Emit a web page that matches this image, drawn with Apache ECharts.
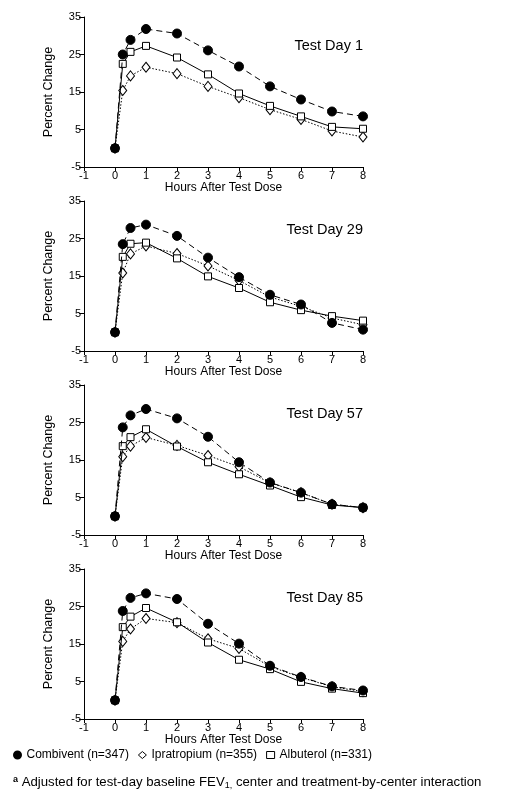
<!DOCTYPE html>
<html><head><meta charset="utf-8">
<script src="https://cdn.jsdelivr.net/npm/echarts@6/dist/echarts.min.js"></script>
<style>html,body{margin:0;padding:0;background:#fff}#c{width:511px;height:795px}</style>
</head><body><div id="c"></div>
<script>
// ---- data ----
const hours = [0, 0.25, 0.5, 1, 2, 3, 4, 5, 6, 7, 8];
const panelTitles = ['Test Day 1', 'Test Day 29', 'Test Day 57', 'Test Day 85'];
const seriesNames = ['Combivent (n=347)', 'Ipratropium (n=355)', 'Albuterol (n=331)'];
const yTicks = [-5, 5, 15, 25, 35];
const xTicks = [-1, 0, 1, 2, 3, 4, 5, 6, 7, 8];

const combiventDay1  = [0, 25.0, 28.9, 31.8, 30.6, 26.1, 21.8, 16.5, 13.0, 9.8, 8.5];
const ipratropiumDay1 = [0, 15.4, 19.3, 21.6, 19.9, 16.5, 13.5, 10.3, 7.7, 4.6, 3.0];
const albuterolDay1  = [0, 22.5, 25.7, 27.3, 24.2, 19.7, 14.6, 11.3, 8.5, 5.7, 5.2];

const combiventDay29  = [0, 23.5, 27.8, 28.7, 25.7, 19.9, 14.7, 10.0, 7.4, 2.5, 0.7];
const ipratropiumDay29 = [0, 15.8, 20.9, 23.0, 21.0, 17.7, 13.8, 9.4, 6.9, 3.8, 2.0];
const albuterolDay29  = [0, 20.1, 23.6, 23.9, 19.7, 14.9, 11.8, 8.0, 5.9, 4.3, 3.1];

const combiventDay57  = [0, 23.7, 26.9, 28.6, 26.1, 21.2, 14.4, 9.0, 6.3, 3.2, 2.3];
const ipratropiumDay57 = [0, 15.9, 18.7, 21.0, 18.9, 16.2, 13.2, 8.9, 6.3, 3.2, 2.3];
const albuterolDay57  = [0, 18.7, 21.1, 23.2, 18.6, 14.4, 11.2, 8.2, 5.1, 3.0, 2.3];

const combiventDay85  = [0, 23.8, 27.3, 28.5, 27.0, 20.4, 15.1, 9.2, 6.2, 3.7, 2.6];
const ipratropiumDay85 = [0, 15.7, 19.0, 21.8, 20.7, 16.4, 13.8, 9.0, 6.1, 3.6, 2.3];
const albuterolDay85  = [0, 19.5, 22.3, 24.6, 20.8, 15.4, 10.8, 8.3, 4.9, 3.1, 1.9];

const panels = [
  [combiventDay1, ipratropiumDay1, albuterolDay1],
  [combiventDay29, ipratropiumDay29, albuterolDay29],
  [combiventDay57, ipratropiumDay57, albuterolDay57],
  [combiventDay85, ipratropiumDay85, albuterolDay85]
];

// ---- layout / style ----
const FONT = 'Arial, "Liberation Sans", Helvetica, sans-serif';
const gridTops = [17, 201, 385, 569];
const gridLeft = 84, gridWidth = 279, gridHeight = 150;

const styles = [
  { symbol: 'circle', symbolSize: 9, line: { type: [6, 4], width: 1 }, item: { color: '#000', borderColor: '#000', borderWidth: 1 }, z: 4 },
  { symbol: 'diamond', symbolSize: [8, 10], line: { type: [1.5, 1.8], width: 1 }, item: { color: '#fff', borderColor: '#000', borderWidth: 1 }, z: 2 },
  { symbol: 'rect', symbolSize: 7, line: { type: 'solid', width: 1 }, item: { color: '#fff', borderColor: '#000', borderWidth: 1 }, z: 3 }
];

const grids = [], xAxes = [], yAxes = [], series = [], titles = [];
gridTops.forEach((top, i) => {
  grids.push({ left: gridLeft, top: top, width: gridWidth, height: gridHeight });
  xAxes.push({
    type: 'value', gridIndex: i, min: -1, max: 8, interval: 1,
    name: 'Hours After Test Dose', nameLocation: 'middle', nameGap: 13,
    nameTextStyle: { fontFamily: FONT, fontSize: 12, color: '#000', verticalAlign: 'top' },
    axisLine: { onZero: false, lineStyle: { color: '#000', width: 1 } },
    axisTick: { show: true, length: 4, lineStyle: { color: '#000' }, customValues: xTicks },
    axisLabel: { fontFamily: FONT, fontSize: 11, color: '#000', margin: 3, customValues: xTicks },
    splitLine: { show: false }
  });
  yAxes.push({
    type: 'value', gridIndex: i, min: -5, max: 35,
    name: 'Percent Change', nameLocation: 'middle', nameGap: 29, nameRotate: 90,
    nameTextStyle: { fontFamily: FONT, fontSize: 12.5, color: '#000' },
    axisLine: { show: true, onZero: false, lineStyle: { color: '#000', width: 1 } },
    axisTick: { show: true, length: 5, lineStyle: { color: '#000' }, customValues: yTicks },
    axisLabel: { fontFamily: FONT, fontSize: 11, color: '#000', margin: 3, customValues: yTicks },
    splitLine: { show: false }
  });
  titles.push({
    text: panelTitles[i], right: 511 - (gridLeft + gridWidth), top: top + 21, padding: 0,
    textStyle: { fontFamily: FONT, fontSize: 14.5, fontWeight: 'normal', color: '#000' }
  });
  panels[i].forEach((vals, k) => {
    const s = styles[k];
    series.push({
      name: seriesNames[k], type: 'line', xAxisIndex: i, yAxisIndex: i,
      data: hours.map((h, j) => [h, vals[j]]),
      symbol: s.symbol, symbolSize: s.symbolSize, showAllSymbol: true,
      lineStyle: Object.assign({ color: '#000' }, s.line),
      itemStyle: s.item, z: s.z, animation: false,
      emphasis: { disabled: true }
    });
  });
});

const chart = echarts.init(document.getElementById('c'), null, { renderer: 'canvas' });
chart.setOption({
  backgroundColor: '#fff',
  animation: false,
  title: titles,
  grid: grids,
  xAxis: xAxes,
  yAxis: yAxes,
  series: series,
  legend: {
    left: 13, top: 749, itemGap: 9, itemWidth: 8, itemHeight: 7, padding: 0,
    selectedMode: false,
    textStyle: { fontFamily: FONT, fontSize: 12, color: '#000' },
    data: [
      { name: seriesNames[0], icon: 'circle', itemStyle: { color: '#000', borderColor: '#000' } },
      { name: seriesNames[1], icon: 'diamond', itemStyle: { color: '#fff', borderColor: '#000', borderWidth: 1 } },
      { name: seriesNames[2], icon: 'rect', itemStyle: { color: '#fff', borderColor: '#000', borderWidth: 1 } }
    ]
  },
  graphic: [{
    type: 'text', left: 13, top: 775,
    style: {
      text: '{sup|a} Adjusted for test-day baseline FEV{sub|1,} center and treatment-by-center interaction',
      fontFamily: FONT, fontSize: 13.2, fill: '#000',
      rich: {
        sup: { fontFamily: FONT, fontSize: 9, fontWeight: 'bold', verticalAlign: 'top', padding: [0, 0, 6, 0] },
        sub: { fontFamily: FONT, fontSize: 9, padding: [6, 0, 0, 0] }
      }
    }
  }]
});
</script>
</body></html>
